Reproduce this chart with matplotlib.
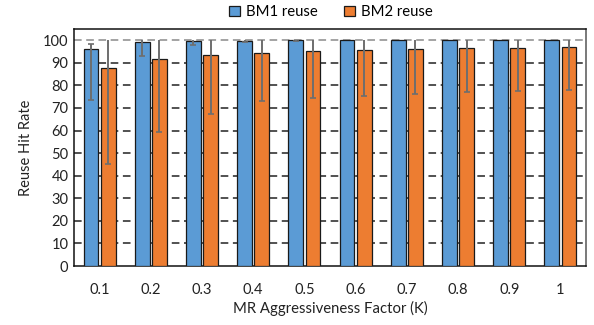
import matplotlib
matplotlib.use("Agg")
import matplotlib.pyplot as plt
import numpy as np

categories = ["0.1", "0.2", "0.3", "0.4", "0.5", "0.6", "0.7", "0.8", "0.9", "1"]
bm1 = [96.0, 99.4, 99.8, 99.9, 100.0, 100.0, 100.0, 100.0, 100.0, 100.0]
bm1_low = [73.6, 93.0, 98.0, 99.3, 99.7, 100.0, 100.0, 100.0, 100.0, 100.0]
bm1_high = [98.5, 100.0, 100.0, 100.0, 100.0, 100.0, 100.0, 100.0, 100.0, 100.0]
bm2 = [87.7, 91.7, 93.3, 94.4, 95.1, 95.7, 96.1, 96.4, 96.7, 97.1]
bm2_low = [45.2, 59.3, 67.4, 73.2, 74.5, 75.4, 76.3, 76.9, 77.5, 78.1]
bm2_high = [100.0, 100.0, 100.0, 100.0, 100.0, 100.0, 100.0, 100.0, 100.0, 100.0]
yticks = list(range(0, 101, 10))

plt.rcParams['font.family'] = ['Lato', 'DejaVu Sans']

fig = plt.figure(figsize=(5.94, 3.25), dpi=100)
ax = fig.add_axes([74/594, 1-266/325, 512/594, 237/325])

x = np.arange(len(categories))
w = 0.287
off = 0.168
blue = "#5B9BD5"
orange = "#ED7D31"
errc = "#6E6E6E"

ax.bar(x - off, bm1, w, color=blue, edgecolor="#1a1a1a", linewidth=0.9, label="BM1 reuse", zorder=3)
ax.bar(x + off, bm2, w, color=orange, edgecolor="#1a1a1a", linewidth=0.9, label="BM2 reuse", zorder=3)

for xs, vals, lo, hi in [(x - off, bm1, bm1_low, bm1_high), (x + off, bm2, bm2_low, bm2_high)]:
    v = np.array(vals); l = np.array(lo); h = np.array(hi)
    ax.errorbar(xs, v, yerr=[v - l, h - v], fmt="none", ecolor=errc, elinewidth=1.4, capsize=0, zorder=4)
    m = l < v
    ax.plot(xs[m], l[m], linestyle="none", marker="_", ms=5, mew=1.2, color=errc, zorder=4)
    m2 = (h < 100) & (h > v)
    ax.plot(xs[m2], h[m2], linestyle="none", marker="_", ms=5, mew=1.2, color=errc, zorder=4)

ax.set_xlim(-0.5, len(categories) - 0.5)
ax.set_ylim(0, 105)
ax.set_yticks(yticks)
ax.set_xticks(x)
ax.set_xticklabels(categories)
for t in yticks[1:]:
    col = "#8a8a8a" if t == 100 else "#222222"
    ax.axhline(t, color=col, linestyle=(0, (5, 3)), linewidth=1.1, zorder=1)

ax.tick_params(axis='both', length=0, labelsize=10.5, colors="#222222")
ax.tick_params(axis='x', pad=12)
ax.tick_params(axis='y', pad=4)
for s in ax.spines.values():
    s.set_color("#111111")
    s.set_linewidth(1.1)
ax.spines['right'].set_color("#555555")

ax.set_ylabel("Reuse Hit Rate", fontsize=10.5, color="#222222", labelpad=7)
ax.set_xlabel("MR Aggressiveness Factor (K)", fontsize=10.7, color="#222222", labelpad=3)

leg = fig.legend(loc="center", bbox_to_anchor=(0.557, 1-12/325), ncol=2, frameon=False,
                 fontsize=10.7, handlelength=0.7, handleheight=0.7, handletextpad=0.4,
                 columnspacing=1.8)

fig.savefig("out.png", dpi=100)
